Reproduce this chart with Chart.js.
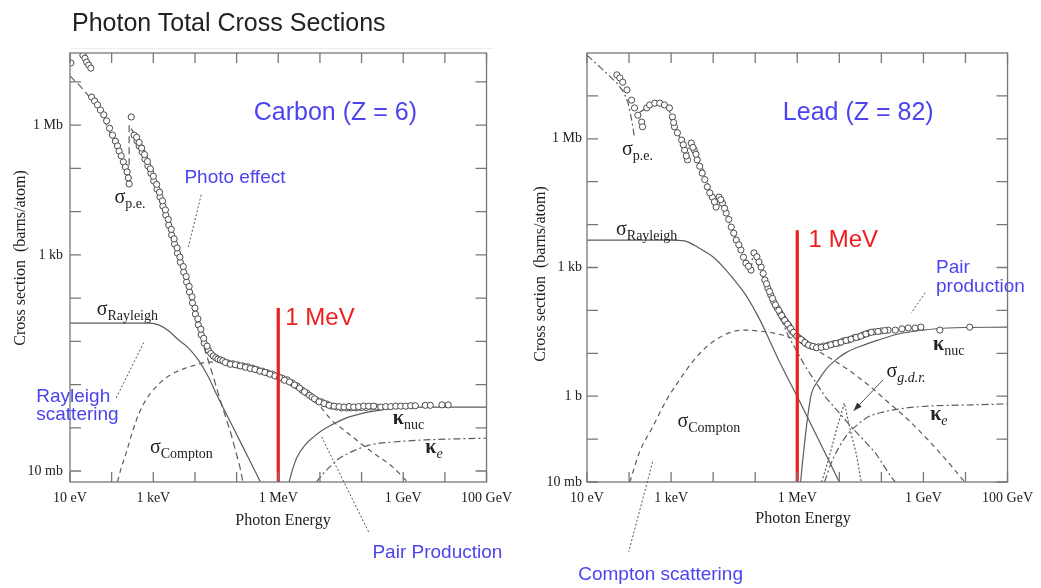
<!DOCTYPE html>
<html>
<head>
<meta charset="utf-8">
<title>Photon Total Cross Sections</title>
<script src="https://cdn.jsdelivr.net/npm/chart.js@4/dist/chart.umd.min.js"></script>
<style>
  body { margin: 0; background: #fff; }
  #title { position: absolute; left: 72px; top: 10px; z-index: 2; font: 25px/25px "Liberation Sans", Arial, sans-serif; color: #222; white-space: nowrap; }
  #rule { position: absolute; left: 70px; top: 48px; width: 423px; border-top: 1px solid #eeeeee; }
  .panel { position: absolute; top: 0; }
</style>
</head>
<body>
<div id="title">Photon Total Cross Sections</div>
<div id="rule"></div>
<div class="panel" style="left:0"><canvas id="carbon" width="520" height="588"></canvas></div>
<div class="panel" style="left:520px"><canvas id="lead" width="521" height="588"></canvas></div>
<script>
// all values are log10: x = log10(photon energy / eV), y = log10(cross section / barn)

const xTickValues = [1, 2, 3, 4, 5, 6, 7, 8, 9, 10, 11];
const xTickLabels = ['10 eV', '', '1 keV', '', '', '1 MeV', '', '', '1 GeV', '', '100 GeV'];
const yTickValues = [-2, -1, 0, 1, 2, 3, 4, 5, 6, 7];
const carbonYLabels = ['10 mb', '', '', '', '', '1 kb', '', '', '1 Mb', ''];
const leadYLabels = ['10 mb', '', '1 b', '', '', '1 kb', '', '', '1 Mb', ''];

// ---- Carbon (Z = 6)
const carbonDataE = [1.02, 1.31, 1.36, 1.40, 1.45, 1.50,
  1.52, 1.59, 1.66, 1.73, 1.81, 1.88, 1.95, 2.02, 2.09, 2.14, 2.18, 2.23, 2.28, 2.33, 2.37, 2.40, 2.42,
  2.47, 2.54, 2.61, 2.66, 2.73, 2.80, 2.87, 2.94, 3.01, 3.09, 3.16, 3.23, 3.30, 3.37, 3.44, 3.51, 3.58, 3.65, 3.73, 3.80, 3.87, 3.94, 4.01, 4.08, 4.15, 4.22, 4.32,
  2.60, 2.66, 2.72, 2.79, 2.86, 2.93, 3.00, 3.08, 3.15, 3.22, 3.29, 3.36, 3.43, 3.50, 3.57, 3.64, 3.72, 3.79, 3.86, 3.93, 4.00, 4.07, 4.14, 4.21, 4.29,
  4.38, 4.44, 4.50, 4.55, 4.61, 4.67, 4.79, 4.91, 5.03, 5.15, 5.27, 5.38, 5.50, 5.62, 5.74, 5.86, 5.98, 6.09, 6.21, 6.33, 6.45, 6.57, 6.69,
  4.73, 4.85, 4.97, 5.09, 5.21, 5.33, 5.44, 5.56, 5.68, 5.80, 5.92, 6.03, 6.15, 6.27, 6.39, 6.51, 6.63, 6.75,
  6.81, 6.92, 7.04, 7.16, 7.28, 7.40, 7.52, 7.64, 7.75, 7.87, 7.99, 8.11, 8.23, 8.35, 8.46, 8.58, 8.70, 8.82, 8.94, 9.06,
  6.87, 6.98, 7.10, 7.22, 7.34, 7.46, 7.58, 7.70, 7.81, 7.93, 8.05, 8.17, 8.29,
  9.18, 9.29, 9.53, 9.65, 9.93, 10.08];
const carbonDataS = [7.44, 7.62, 7.55, 7.46, 7.39, 7.32,
  6.65, 6.56, 6.47, 6.35, 6.24, 6.10, 5.93, 5.77, 5.63, 5.52, 5.40, 5.29, 5.15, 5.03, 4.92, 4.78, 4.64,
  6.19, 5.77, 5.63, 5.52, 5.38, 5.22, 5.06, 4.89, 4.71, 4.52, 4.34, 4.13, 3.92, 3.69, 3.46, 3.25, 3.04, 2.83, 2.60, 2.37, 2.14, 1.89, 1.63, 1.38, 1.15, 0.96, 0.80,
  5.72, 5.60, 5.47, 5.32, 5.16, 4.99, 4.82, 4.63, 4.45, 4.25, 4.04, 3.82, 3.59, 3.37, 3.16, 2.95, 2.73, 2.50, 2.27, 2.03, 1.77, 1.52, 1.28, 1.07, 0.89,
  0.72, 0.66, 0.62, 0.59, 0.57, 0.55, 0.50, 0.48, 0.45, 0.43, 0.41, 0.38, 0.34, 0.31, 0.27, 0.24, 0.20, 0.15, 0.11, 0.04, -0.03, -0.13, -0.20,
  0.51, 0.47, 0.46, 0.43, 0.40, 0.37, 0.35, 0.31, 0.28, 0.24, 0.20, 0.16, 0.10, 0.06, -0.01, -0.08, -0.17, -0.25,
  -0.29, -0.36, -0.40, -0.45, -0.50, -0.52, -0.54, -0.54, -0.54, -0.54, -0.53, -0.53, -0.52, -0.52, -0.52, -0.51, -0.51, -0.50, -0.50, -0.50,
  -0.33, -0.40, -0.44, -0.48, -0.50, -0.51, -0.52, -0.51, -0.52, -0.51, -0.50, -0.50, -0.50,
  -0.49, -0.49, -0.48, -0.48, -0.47, -0.47];
const carbonPeE = [1.00, 1.24, 1.47, 1.71, 1.95, 2.18, 2.37, 2.42, 2.42, 2.59, 2.90, 3.20, 3.54, 3.84, 4.08, 4.20, 4.39, 4.63, 4.86, 5.08, 5.15];
const carbonPeS = [7.14, 6.91, 6.65, 6.35, 5.84, 5.36, 4.92, 4.78, 6.00, 5.73, 5.03, 4.11, 3.16, 2.14, 1.38, 0.92, 0.34, -0.43, -1.12, -1.91, -2.25];
const carbonRayE = [1.00, 2.90, 3.13, 3.37, 3.61, 3.84, 4.08, 4.32, 4.55, 5.03, 5.57];
const carbonRayS = [1.42, 1.42, 1.38, 1.24, 1.03, 0.85, 0.57, 0.18, -0.29, -1.21, -2.25];
const carbonComptonE = [2.14, 2.23, 2.35, 2.49, 2.66, 2.85, 3.06, 3.30, 3.54, 3.77, 4.01, 4.32, 4.67, 5.03, 5.38, 5.74, 6.09, 6.45, 6.81, 7.04, 7.28, 7.64, 8.18, 8.75, 9.10];
const carbonComptonS = [-2.25, -1.93, -1.58, -1.12, -0.66, -0.31, -0.06, 0.15, 0.29, 0.38, 0.45, 0.52, 0.52, 0.48, 0.38, 0.27, 0.15, -0.03, -0.26, -0.54, -0.82, -1.10, -1.51, -1.91, -2.25];
const carbonNucE = [6.26, 6.36, 6.45, 6.64, 6.85, 7.04, 7.23, 7.64, 8.04, 8.46, 8.82, 9.60, 11.00];
const carbonNucS = [-2.25, -1.91, -1.68, -1.40, -1.21, -1.07, -0.96, -0.77, -0.66, -0.59, -0.54, -0.52, -0.52];
const carbonElecE = [6.92, 7.07, 7.23, 7.42, 7.64, 7.92, 8.18, 8.75, 9.53, 11.00];
const carbonElecS = [-2.25, -2.07, -1.91, -1.74, -1.61, -1.49, -1.40, -1.33, -1.28, -1.24];
const carbonMarkerS = [1.77, -2.26];

// ---- Lead (Z = 82)
const leadDataE = [1.71, 1.78, 1.85, 1.95, 2.06, 2.13, 2.21, 2.30, 2.32,
  2.42, 2.49, 2.61, 2.73, 2.84, 2.96, 3.03, 3.08, 3.15, 3.25, 3.32, 3.39,
  3.06, 3.29, 3.36,
  3.48, 3.55, 3.62, 3.74, 3.86, 3.98, 4.07,
  3.52, 3.59, 3.68, 3.80, 3.92, 4.03,
  4.14, 4.22, 4.31, 4.43, 4.55, 4.66, 4.78, 4.90,
  4.18, 4.27, 4.37, 4.49, 4.61, 4.72, 4.84,
  4.97, 5.04, 5.14, 5.23, 5.30, 5.37, 5.44, 5.52, 5.59, 5.66, 5.73, 5.80, 5.87, 5.94, 6.04, 6.13, 6.22, 6.32, 6.41, 6.51,
  5.09, 5.19, 5.27, 5.34, 5.41, 5.48, 5.56, 5.63, 5.70, 5.77, 5.84, 5.91, 5.99, 6.09, 6.18, 6.27, 6.37, 6.46,
  6.63, 6.74, 6.86, 6.98, 7.10, 7.22, 7.34, 7.45, 7.57, 7.69, 7.83, 8.00, 8.16, 8.33, 8.49, 8.64, 8.80, 8.94, 9.39, 10.10,
  6.57, 6.69, 6.80, 6.92, 7.04, 7.16, 7.28, 7.40, 7.51, 7.63, 7.76, 7.92, 8.08];
const leadDataS = [7.49, 7.42, 7.32, 7.14, 6.90, 6.72, 6.55, 6.39, 6.28,
  6.72, 6.79, 6.83, 6.83, 6.79, 6.72, 6.51, 6.28, 6.14, 5.97, 5.74, 5.51,
  6.38, 5.86, 5.60,
  5.90, 5.74, 5.51, 5.20, 4.88, 4.64, 4.41,
  5.80, 5.64, 5.36, 5.05, 4.74, 4.53,
  4.64, 4.50, 4.27, 3.94, 3.64, 3.41, 3.10, 2.94,
  4.58, 4.38, 4.12, 3.80, 3.53, 3.24, 3.03,
  3.34, 3.25, 3.01, 2.71, 2.52, 2.36, 2.20, 2.06, 1.94, 1.82, 1.73, 1.64, 1.52, 1.45, 1.36, 1.29, 1.22, 1.17, 1.15, 1.15,
  3.13, 2.86, 2.62, 2.44, 2.28, 2.13, 2.00, 1.88, 1.77, 1.68, 1.58, 1.49, 1.40, 1.32, 1.25, 1.19, 1.16, 1.13,
  1.17, 1.19, 1.22, 1.24, 1.29, 1.31, 1.36, 1.38, 1.43, 1.47, 1.50, 1.52, 1.54, 1.54, 1.57, 1.59, 1.59, 1.61, 1.54, 1.61,
  1.14, 1.16, 1.20, 1.23, 1.26, 1.30, 1.33, 1.37, 1.40, 1.45, 1.49, 1.51, 1.53];
const leadPeE = [1.00, 1.31, 1.54, 1.73, 1.87, 1.97, 2.04, 2.09, 2.13, 2.13, 2.25, 2.49, 2.73, 2.91, 3.06, 3.20, 3.39,
  3.44, 3.67, 3.91, 4.07, 4.12, 4.38, 4.66, 4.90, 4.95, 5.21, 5.52, 5.80, 6.20, 6.67, 7.29, 7.86, 8.23, 8.33];
const leadPeS = [7.95, 7.67, 7.46, 7.28, 7.09, 6.86, 6.55, 6.28, 6.02, null, 6.62, 6.76, 6.81, 6.74, 6.44, 6.04, 5.48,
  5.90, 5.55, 4.85, 4.41, 4.67, 4.06, 3.36, 2.92, 3.36, 2.71, 2.01, 1.38, 0.68, -0.02, -0.72, -1.32, -1.88, -2.00];
const leadRayE = [1.00, 2.96, 3.32, 3.55, 3.79, 4.03, 4.26, 4.50, 4.74, 5.09, 5.56, 6.04, 6.51, 7.00];
const leadRayS = [3.64, 3.64, 3.62, 3.52, 3.38, 3.22, 2.99, 2.71, 2.41, 1.82, 0.84, -0.09, -1.02, -2.00];
const leadComptonE = [2.02, 2.25, 2.56, 2.89, 3.20, 3.51, 3.84, 4.14, 4.45, 4.78, 5.09, 5.44, 5.80, 6.27, 6.74, 7.22, 7.69, 8.16, 8.64, 9.11, 9.58, 9.98];
const leadComptonS = [-2.00, -1.30, -0.72, -0.09, 0.38, 0.80, 1.15, 1.36, 1.50, 1.54, 1.52, 1.47, 1.38, 1.17, 0.91, 0.61, 0.26, -0.14, -0.55, -1.02, -1.53, -2.00];
const leadNucE = [6.08, 6.13, 6.20, 6.27, 6.34, 6.51, 6.67, 6.91, 7.15, 7.52, 7.93, 8.40, 8.99, 9.58, 11.00];
const leadNucS = [-2.00, -1.49, -0.86, -0.32, 0.07, 0.38, 0.61, 0.84, 1.01, 1.17, 1.31, 1.45, 1.54, 1.59, 1.61];
const leadElecE = [6.65, 6.79, 6.98, 7.22, 7.45, 7.69, 8.04, 8.40, 9.11, 9.82, 11.00];
const leadElecS = [-2.00, -1.60, -1.21, -0.86, -0.65, -0.48, -0.37, -0.30, -0.23, -0.21, -0.18];
const leadGdrE = [6.58, 6.74, 6.93, 7.12, 7.26, 7.41, 7.52];
const leadGdrS = [-2.00, -1.49, -0.79, -0.16, -0.79, -1.37, -2.00];
const leadMarkerS = [3.87, -2.00];

const MEV = 6;
const SERIF = '"Liberation Serif", "Times New Roman", serif';
const SANS = '"Liberation Sans", Arial, sans-serif';
const BLUE = '#4c44ee';
const RED = '#ef1e1e';
const INK = '#222';

function pts(xs, ys) {
  return xs.map((v, i) => ({ x: v, y: ys[i] }));
}

function line(label, xs, ys, dash, smooth) {
  return {
    label, data: pts(xs, ys), showLine: true, pointRadius: 0,
    borderColor: '#5c5c5c', borderWidth: 1.2, borderDash: dash,
    tension: smooth ? 0.4 : 0, cubicInterpolationMode: smooth ? 'monotone' : 'default',
    spanGaps: false, order: 2
  };
}

function circles(xs, ys) {
  return {
    label: 'measured', data: pts(xs, ys), showLine: false, pointStyle: 'circle',
    pointRadius: 3.1, pointBorderWidth: 1, pointBorderColor: '#4a4a4a', pointBackgroundColor: '#fff', order: 1
  };
}

function marker(ys) {
  return { label: '1 MeV', data: pts([MEV, MEV], ys), showLine: true, pointRadius: 0, borderColor: RED, borderWidth: 3.2, order: 0 };
}

// text annotations, placed in data coordinates
const carbonNotes = [
  { kind: 'text', e: 7.37, s: 6.28, text: 'Carbon (Z = 6)', font: '25px ' + SANS, color: BLUE, align: 'center' },
  { kind: 'text', e: 4.96, s: 4.78, text: 'Photo effect', font: '19px ' + SANS, color: BLUE, align: 'center' },
  { kind: 'text', e: 6.17, s: 1.54, text: '1 MeV', font: '24px ' + SANS, color: RED, align: 'left' },
  { kind: 'text', e: 0.19, s: -0.29, text: 'Rayleigh', font: '19px ' + SANS, color: BLUE, align: 'left' },
  { kind: 'text', e: 0.19, s: -0.70, text: 'scattering', font: '19px ' + SANS, color: BLUE, align: 'left' },
  { kind: 'text', e: 9.82, s: -3.90, text: 'Pair Production', font: '19px ' + SANS, color: BLUE, align: 'center' },
  { kind: 'sym', e: 2.07, s: 4.20, main: 'σ', sub: 'p.e.' },
  { kind: 'sym', e: 1.64, s: 1.61, main: 'σ', sub: 'Rayleigh' },
  { kind: 'sym', e: 2.92, s: -1.58, main: 'σ', sub: 'Compton' },
  { kind: 'sym', e: 8.75, s: -0.91, main: 'κ', sub: 'nuc', bold: true },
  { kind: 'sym', e: 9.53, s: -1.58, main: 'κ', sub: 'e', bold: true, italic: true },
  { kind: 'leader', from: [4.15, 4.39], to: [3.84, 3.18] },
  { kind: 'leader', from: [2.11, -0.31], to: [2.78, 0.99] },
  { kind: 'leader', from: [7.04, -1.21], to: [8.18, -3.43] }
];

const leadNotes = [
  { kind: 'text', e: 7.45, s: 6.60, text: 'Lead (Z = 82)', font: '25px ' + SANS, color: BLUE, align: 'center' },
  { kind: 'text', e: 6.27, s: 3.64, text: '1 MeV', font: '24px ' + SANS, color: RED, align: 'left' },
  { kind: 'text', e: 9.30, s: 2.99, text: 'Pair', font: '19px ' + SANS, color: BLUE, align: 'left' },
  { kind: 'text', e: 9.30, s: 2.55, text: 'production', font: '19px ' + SANS, color: BLUE, align: 'left' },
  { kind: 'text', e: 2.75, s: -4.17, text: 'Compton scattering', font: '19px ' + SANS, color: BLUE, align: 'center' },
  { kind: 'sym', e: 1.83, s: 5.62, main: 'σ', sub: 'p.e.' },
  { kind: 'sym', e: 1.69, s: 3.76, main: 'σ', sub: 'Rayleigh' },
  { kind: 'sym', e: 3.15, s: -0.72, main: 'σ', sub: 'Compton' },
  { kind: 'sym', e: 9.23, s: 1.08, main: 'κ', sub: 'nuc', bold: true },
  { kind: 'sym', e: 8.12, s: 0.45, main: 'σ', sub: 'g.d.r.', italic: true },
  { kind: 'sym', e: 9.16, s: -0.55, main: 'κ', sub: 'e', bold: true, italic: true },
  { kind: 'leader', from: [9.04, 2.41], to: [8.71, 1.94] },
  { kind: 'leader', from: [2.56, -1.53], to: [1.99, -3.63] },
  { kind: 'arrow', from: [8.04, 0.38], to: [7.34, -0.34] }
];

function decor(panel) {
  return {
    id: 'decor',
    afterDatasetsDraw(chart) {
      const { ctx, chartArea: a, scales: { x, y } } = chart;
      const px = v => x.getPixelForValue(v);
      const py = v => y.getPixelForValue(v);
      ctx.save();

      // frame + inward ticks on all four sides
      ctx.strokeStyle = '#777';
      ctx.lineWidth = 1.3;
      ctx.setLineDash([]);
      ctx.strokeRect(a.left, a.top, a.width, a.height);
      ctx.beginPath();
      x.ticks.forEach(t => {
        const X = px(t.value);
        ctx.moveTo(X, a.bottom); ctx.lineTo(X, a.bottom - 10);
        ctx.moveTo(X, a.top); ctx.lineTo(X, a.top + 10);
      });
      y.ticks.forEach(t => {
        const Y = py(t.value);
        ctx.moveTo(a.left, Y); ctx.lineTo(a.left + 11, Y);
        ctx.moveTo(a.right, Y); ctx.lineTo(a.right - 11, Y);
      });
      ctx.stroke();

      // axis titles
      ctx.fillStyle = INK;
      ctx.font = '16px ' + SERIF;
      ctx.textAlign = 'center';
      ctx.textBaseline = 'middle';
      ctx.fillText('Photon Energy', panel.xTitle[0], panel.xTitle[1]);
      ctx.save();
      ctx.translate(panel.yTitle[0], panel.yTitle[1]);
      ctx.rotate(-Math.PI / 2);
      ctx.fillText('Cross section  (barns/atom)', 0, 0);
      ctx.restore();

      panel.notes.forEach(n => {
        if (n.kind === 'text') {
          ctx.font = n.font;
          ctx.fillStyle = n.color;
          ctx.textAlign = n.align;
          ctx.textBaseline = 'middle';
          ctx.fillText(n.text, px(n.e), py(n.s));
        } else if (n.kind === 'sym') {
          const X = px(n.e), Y = py(n.s);
          ctx.fillStyle = INK;
          ctx.textAlign = 'left';
          ctx.textBaseline = 'alphabetic';
          ctx.font = (n.bold ? 'bold ' : '') + '20px ' + SERIF;
          ctx.fillText(n.main, X, Y);
          const w = ctx.measureText(n.main).width;
          ctx.font = (n.italic ? 'italic ' : '') + '14px ' + SERIF;
          ctx.fillText(n.sub, X + w, Y + 5);
        } else {
          const x0 = px(n.from[0]), y0 = py(n.from[1]);
          const x1 = px(n.to[0]), y1 = py(n.to[1]);
          ctx.strokeStyle = '#555';
          ctx.lineWidth = 1;
          ctx.setLineDash(n.kind === 'leader' ? [2, 2] : []);
          ctx.beginPath();
          ctx.moveTo(x0, y0);
          ctx.lineTo(x1, y1);
          ctx.stroke();
          if (n.kind === 'arrow') {
            const ang = Math.atan2(y1 - y0, x1 - x0);
            ctx.fillStyle = '#333';
            ctx.beginPath();
            ctx.moveTo(x1, y1);
            ctx.lineTo(x1 - 9 * Math.cos(ang - 0.35), y1 - 9 * Math.sin(ang - 0.35));
            ctx.lineTo(x1 - 9 * Math.cos(ang + 0.35), y1 - 9 * Math.sin(ang + 0.35));
            ctx.closePath();
            ctx.fill();
          }
        }
      });
      ctx.restore();
    }
  };
}

function build(id, panel) {
  const tickFont = { family: SERIF, size: 14 };
  return new Chart(document.getElementById(id), {
    type: 'scatter',
    data: { datasets: panel.datasets },
    options: {
      responsive: false,
      animation: false,
      events: [],
      layout: { padding: panel.padding },
      plugins: { legend: { display: false }, tooltip: { enabled: false }, title: { display: false } },
      scales: {
        x: {
          type: 'linear', min: 1, max: 11,
          afterBuildTicks: s => { s.ticks = xTickValues.map(v => ({ value: v })); },
          afterFit: s => { s.height = 40; },
          grid: { display: false, drawTicks: false },
          border: { display: false },
          ticks: {
            padding: 8, autoSkip: false, maxRotation: 0, color: INK, font: tickFont,
            callback: v => xTickLabels[xTickValues.indexOf(v)] || ''
          }
        },
        y: {
          type: 'linear', min: panel.yMin, max: panel.yMax,
          afterBuildTicks: s => { s.ticks = yTickValues.map(v => ({ value: v })); },
          afterFit: s => { s.width = panel.yWidth; },
          grid: { display: false, drawTicks: false },
          border: { display: false },
          ticks: {
            padding: panel.yPad, autoSkip: false, color: INK, font: tickFont,
            callback: v => panel.yLabels[yTickValues.indexOf(v)] || ''
          }
        }
      }
    },
    plugins: [decor(panel)]
  });
}

build('carbon', {
  yMin: -2.254, yMax: 7.67, yWidth: 70, yPad: 7, yLabels: carbonYLabels,
  padding: { top: 53, right: 28, bottom: 66, left: 0 },
  xTitle: [283, 521], yTitle: [21, 258],
  notes: carbonNotes,
  datasets: [
    marker(carbonMarkerS),
    circles(carbonDataE, carbonDataS),
    line('p.e.', carbonPeE, carbonPeS, [7, 4], false),
    line('Rayleigh', carbonRayE, carbonRayS, [], true),
    line('Compton', carbonComptonE, carbonComptonS, [5, 4], true),
    line('kappa nuc', carbonNucE, carbonNucS, [], true),
    line('kappa e', carbonElecE, carbonElecS, [7, 3, 2, 3], true)
  ]
});

build('lead', {
  yMin: -2, yMax: 8, yWidth: 67, yPad: 5, yLabels: leadYLabels,
  padding: { top: 53, right: 31, bottom: 66, left: 0 },
  xTitle: [283, 519], yTitle: [21, 274],
  notes: leadNotes,
  datasets: [
    marker(leadMarkerS),
    circles(leadDataE, leadDataS),
    line('p.e.', leadPeE, leadPeS, [7, 3, 2, 3], false),
    line('Rayleigh', leadRayE, leadRayS, [], true),
    line('Compton', leadComptonE, leadComptonS, [5, 4], true),
    line('kappa nuc', leadNucE, leadNucS, [], true),
    line('kappa e', leadElecE, leadElecS, [7, 3, 2, 3], true),
    line('g.d.r.', leadGdrE, leadGdrS, [2, 2], false)
  ]
});
</script>
</body>
</html>
